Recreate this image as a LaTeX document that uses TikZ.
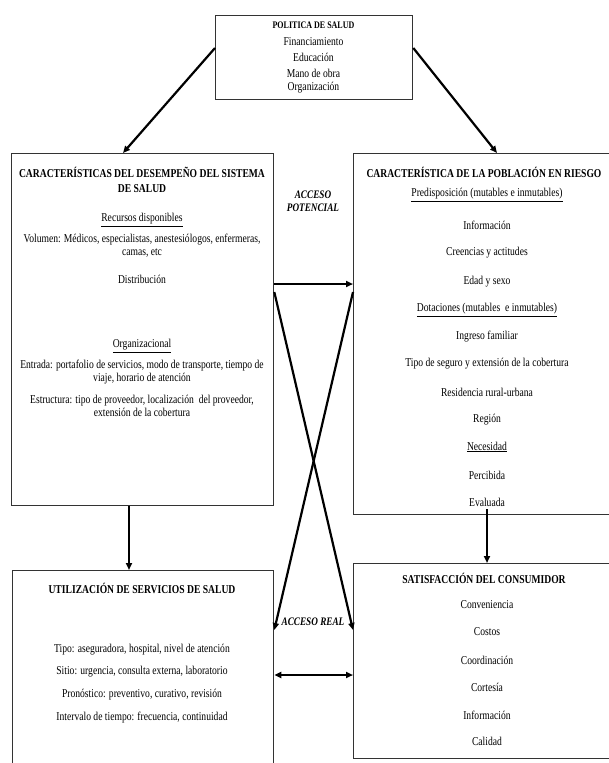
\documentclass[tikz,border=0pt]{standalone}
\usepackage{fontspec}
\setmainfont[FakeStretch=0.8]{Liberation Serif}
\usetikzlibrary{arrows.meta,calc}
\begin{document}
\begin{tikzpicture}[x=1pt,y=-1pt,
  box/.style={draw=black!80, line width=1.3pt, rectangle, inner sep=0pt, anchor=north west},
  txt/.style={font=\fontsize{12}{13}\selectfont, align=center, inner sep=0pt},
  ttl/.style={font=\bfseries\fontsize{12}{13}\selectfont, align=center, inner sep=0pt},
  lab/.style={font=\bfseries\itshape\fontsize{11.5}{12.5}\selectfont, align=center, inner sep=0pt},
  arr/.style={line width=2.2pt, -{Triangle[length=7pt,width=6pt]}},
  darr/.style={line width=2.6pt, {Triangle[length=7pt,width=6pt]}-{Triangle[length=7pt,width=6pt]}}
]
\useasboundingbox (0,0) rectangle (608,763);
% boxes
\node[box, minimum width=197pt, minimum height=84pt] (top) at (215,15) {};
\node[box, minimum width=262pt, minimum height=352pt] (lbox) at (11,153) {};
\node[box, minimum width=268pt, minimum height=361pt] (rbox) at (353,153) {};
\node[box, minimum width=261pt, minimum height=220pt] (ubox) at (12,570) {};
\node[box, minimum width=268pt, minimum height=195pt] (sbox) at (353,563) {};
% top box text
\node[ttl, font=\bfseries\fontsize{10}{11}\selectfont] (t0) at (313.5,25) {POLITICA DE SALUD};
\node[txt] (t1) at (313.5,42) {Financiamiento};
\node[txt] (t2) at (313.5,57) {Educación};
\node[txt] (t3) at (313.5,73) {Mano de obra};
\node[txt] (t4) at (313.5,88) {Organización};
% left box text
\node[ttl] (l0) at (142,172) {CARACTERÍSTICAS DEL DESEMPEÑO DEL SISTEMA};
\node[ttl] (l1) at (142,189) {DE SALUD};
\node[txt] (l2) at (142,220) {\underline{Recursos disponibles}};
\node[txt] (l3) at (142,246) {Volumen: Médicos, especialistas, anestesiólogos, enfermeras,\\camas, etc};
\node[txt] (l4) at (142,279) {Distribución};
\node[txt] (l5) at (142,346) {\underline{Organizacional}};
\node[txt] (l6) at (142,372) {Entrada: portafolio de servicios, modo de transporte, tiempo de\\viaje, horario de atención};
\node[txt] (l7) at (142,406) {Estructura: tipo de proveedor, localización\ \ del proveedor,\\extensión de la cobertura};
% right box text
\node[ttl] (r0) at (484,172) {CARACTERÍSTICA DE LA POBLACIÓN EN RIESGO};
\node[txt] (r1) at (487,195) {\underline{Predisposición (mutables e inmutables)}};
\node[txt] (r2) at (487,225) {Información};
\node[txt] (r3) at (487,253) {Creencias y actitudes};
\node[txt] (r4) at (487,282) {Edad y sexo};
\node[txt] (r5) at (487,310) {\underline{Dotaciones (mutables\ \ e inmutables)}};
\node[txt] (r6) at (487,337) {Ingreso familiar};
\node[txt] (r7) at (487,364) {Tipo de seguro y extensión de la cobertura};
\node[txt] (r8) at (487,392) {Residencia rural-urbana};
\node[txt] (r9) at (487,420) {Región};
\node[txt] (r10) at (487,447) {\underline{Necesidad}};
\node[txt] (r11) at (487,475) {Percibida};
\node[txt] (r12) at (487,502) {Evaluada};
% bottom left text
\node[ttl] (u0) at (142,588) {UTILIZACIÓN DE SERVICIOS DE SALUD};
\node[txt] (u1) at (142,650) {Tipo: aseguradora, hospital, nivel de atención};
\node[txt] (u2) at (142,672) {Sitio: urgencia, consulta externa, laboratorio};
\node[txt] (u3) at (142,695) {Pronóstico: preventivo, curativo, revisión};
\node[txt] (u4) at (142,718) {Intervalo de tiempo: frecuencia, continuidad};
% bottom right text
\node[ttl] (s0) at (484,578) {SATISFACCIÓN DEL CONSUMIDOR};
\node[txt] (s1) at (487,605) {Conveniencia};
\node[txt] (s2) at (487,632) {Costos};
\node[txt] (s3) at (487,660) {Coordinación};
\node[txt] (s4) at (487,687) {Cortesía};
\node[txt] (s5) at (487,715) {Información};
\node[txt] (s6) at (487,741) {Calidad};
% labels
\node[lab] (ap) at (313,201) {ACCESO\\POTENCIAL};
\node[lab] (ar) at (313,622) {ACCESO REAL};
% connectors
\draw[arr] ($(top.north west)+(0,33)$) -- ($(lbox.north west)+(112,0)$);
\draw[arr] ($(top.north east)+(0,33)$) -- ($(rbox.north west)+(144,0)$);
\draw[arr] ($(lbox.south west)+(118,0)$) -- ($(ubox.north west)+(117,0)$);
\draw[arr] ($(rbox.south west)+(134,-6)$) -- ($(sbox.north west)+(134,0)$);
\draw[arr] ($(lbox.north east)+(0,131)$) -- ($(rbox.north west)+(0,131)$);
\draw[arr] ($(lbox.north east)+(0,139)$) -- ($(sbox.north west)+(0,67)$);
\draw[arr] ($(rbox.north west)+(0,139)$) -- ($(ubox.north east)+(0,60)$);
\draw[darr] ($(ubox.north east)+(0,105)$) -- ($(sbox.north west)+(0,112)$);
\end{tikzpicture}
\end{document}
